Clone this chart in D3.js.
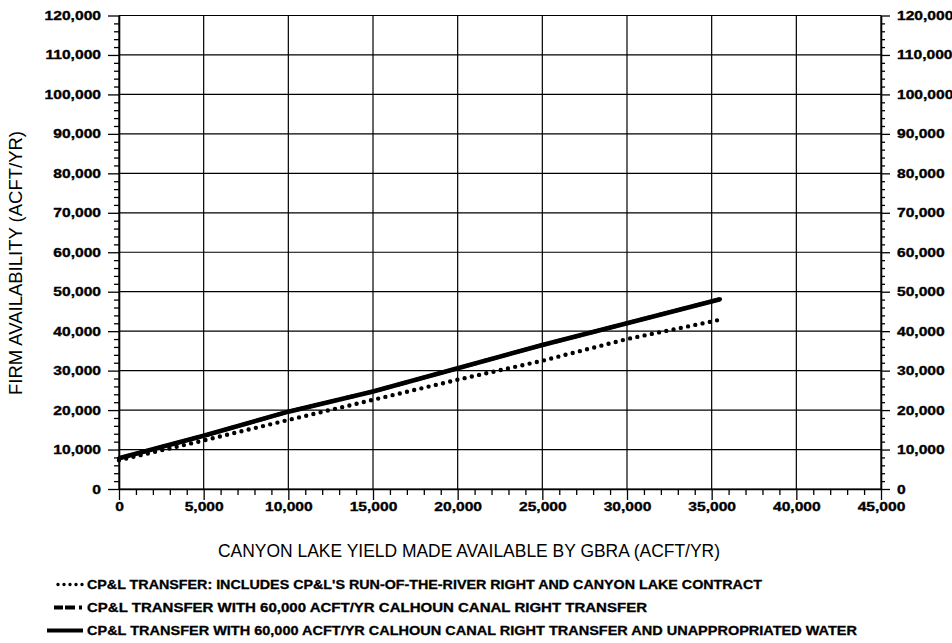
<!DOCTYPE html>
<html><head><meta charset="utf-8">
<script src="https://cdn.jsdelivr.net/npm/d3@7"></script>
<style>
body{margin:0;background:#fff;}
svg{display:block;background:#fff;}
.ax .tick text{font-family:"Liberation Sans",Arial,sans-serif;font-weight:bold;font-size:12.5px;fill:#000;stroke:#000;stroke-width:0.35px;transform-box:fill-box;}
.axL .tick text{transform-origin:right center;transform:scaleX(1.25);}
.axR .tick text{transform-origin:left center;transform:scaleX(1.25);}
.axB .tick text{transform-origin:center center;transform:scaleX(1.25);}
.ax .tick line{stroke:#000;stroke-width:1.3;}
.ax path.domain{stroke:#000;stroke-width:1.6;}
.leg text{stroke:#000;stroke-width:0.3px;}
</style></head><body>
<svg id="c" width="952" height="643"></svg>
<script>
// ---- data ----
const xTicks = [0,5000,10000,15000,20000,25000,30000,35000,40000,45000];
const yTicks = [0,10000,20000,30000,40000,50000,60000,70000,80000,90000,100000,110000,120000];
const canyonYield = [0,5000,10000,15000,20000,25000,30000,35500];
const runOfRiverValues = [7300,12300,17500,22600,27700,32500,38000,42900];
const calhounValues = [7800,13500,19600,24700,30600,36500,42000,48100];
const unappropriatedValues = [7800,13500,19600,24700,30600,36500,42000,48100];
const seriesLabels = [
  "CP&L TRANSFER: INCLUDES CP&L'S RUN-OF-THE-RIVER RIGHT AND CANYON LAKE CONTRACT",
  "CP&L TRANSFER WITH 60,000 ACFT/YR CALHOUN CANAL RIGHT TRANSFER",
  "CP&L TRANSFER WITH 60,000 ACFT/YR CALHOUN CANAL RIGHT TRANSFER AND UNAPPROPRIATED WATER"
];
const xTitle = "CANYON LAKE YIELD MADE AVAILABLE BY GBRA (ACFT/YR)";
const yTitle = "FIRM AVAILABILITY (ACFT/YR)";

// ---- layout ----
const L=119, R=881, T=15.5, B=489;
const svg = d3.select("#c");
const x = d3.scaleLinear().domain([0,45000]).range([L,R]);
const y = d3.scaleLinear().domain([0,120000]).range([B,T]);
const fmt = d3.format(",");

// grid
const g = svg.append("g");
g.selectAll("line.v").data(xTicks).join("line").attr("class","v")
  .attr("x1",d=>x(d)).attr("x2",d=>x(d)).attr("y1",T).attr("y2",B)
  .attr("stroke","#000").attr("stroke-width",1.2);
g.selectAll("line.h").data(yTicks).join("line").attr("class","h")
  .attr("x1",L).attr("x2",R).attr("y1",d=>y(d)).attr("y2",d=>y(d))
  .attr("stroke","#000").attr("stroke-width",1.2);

// minor tick positions
const minorY = d3.range(0,120001,2000).filter(v=>v%10000!==0);
const minorX = d3.range(0,45001,1000).filter(v=>v%5000!==0);

// axes
svg.append("g").attr("class","ax axL").attr("transform",`translate(${L},0)`)
  .call(d3.axisLeft(y).tickValues(yTicks).tickSize(11).tickSizeOuter(0).tickPadding(7).tickFormat(fmt));
svg.append("g").attr("class","ax").attr("transform",`translate(${L},0)`)
  .call(d3.axisLeft(y).tickValues(minorY).tickSize(5).tickFormat(""))
  .call(s=>s.select(".domain").remove());
svg.append("g").attr("class","ax axR").attr("transform",`translate(${R},0)`)
  .call(d3.axisRight(y).tickValues(yTicks).tickSize(9).tickSizeOuter(0).tickPadding(7).tickFormat(fmt));
svg.append("g").attr("class","ax").attr("transform",`translate(${R},0)`)
  .call(d3.axisRight(y).tickValues(minorY).tickSize(4).tickFormat(""))
  .call(s=>s.select(".domain").remove());
svg.append("g").attr("class","ax axB").attr("transform",`translate(0,${B})`)
  .call(d3.axisBottom(x).tickValues(xTicks).tickSize(11).tickSizeOuter(0).tickPadding(2).tickFormat(fmt));
svg.append("g").attr("class","ax").attr("transform",`translate(0,${B})`)
  .call(d3.axisBottom(x).tickValues(minorX).tickSize(6).tickFormat(""))
  .call(s=>s.select(".domain").remove());

// series
const line = d3.line().x((d,i)=>x(canyonYield[i])).y(d=>y(d));
const styles = [
  {w:4.4, dash:"0,7.4", cap:"round"},
  {w:3.8, dash:"10,4,0,4", cap:"round"},
  {w:4.6, dash:null, cap:"butt"}
];
const seriesData = [runOfRiverValues, calhounValues, unappropriatedValues];
[1,2,0].forEach(i=>{
  svg.append("path").datum(seriesData[i]).attr("d",line)
    .attr("fill","none").attr("stroke","#000")
    .attr("stroke-width",styles[i].w)
    .attr("stroke-linecap",styles[i].cap)
    .attr("stroke-dasharray",styles[i].dash);
});

// titles
svg.append("text").attr("x",469).attr("y",557).attr("text-anchor","middle")
  .attr("font-family","Liberation Sans, Arial, sans-serif").attr("font-size",17.5)
  .attr("textLength",502).attr("lengthAdjust","spacingAndGlyphs")
  .text(xTitle);
svg.append("text").attr("transform","translate(22,263) rotate(-90)").attr("text-anchor","middle")
  .attr("font-family","Liberation Sans, Arial, sans-serif").attr("font-size",17.5)
  .attr("textLength",264).attr("lengthAdjust","spacingAndGlyphs")
  .text(yTitle);

// legend
const legY = [589,612,635];
const legW = [675,560,770];
const leg = svg.append("g").attr("class","leg");
seriesLabels.forEach((lab,i)=>{
  leg.append("text").attr("x",87).attr("y",legY[i])
    .attr("font-family","Liberation Sans, Arial, sans-serif").attr("font-weight","bold").attr("font-size",12.5)
    .attr("textLength",legW[i]).attr("lengthAdjust","spacingAndGlyphs").text(lab);
});
// symbols
leg.append("line").attr("x1",58).attr("x2",83).attr("y1",legY[0]-4.5).attr("y2",legY[0]-4.5)
  .attr("stroke","#000").attr("stroke-width",3.4).attr("stroke-linecap","round").attr("stroke-dasharray","0,6");
leg.append("line").attr("x1",54).attr("x2",84).attr("y1",legY[1]-4.5).attr("y2",legY[1]-4.5)
  .attr("stroke","#000").attr("stroke-width",3.8).attr("stroke-dasharray","9,2,10,4,3,10");
leg.append("line").attr("x1",47).attr("x2",83).attr("y1",legY[2]-4.5).attr("y2",legY[2]-4.5)
  .attr("stroke","#000").attr("stroke-width",3.8);
</script>
</body></html>
